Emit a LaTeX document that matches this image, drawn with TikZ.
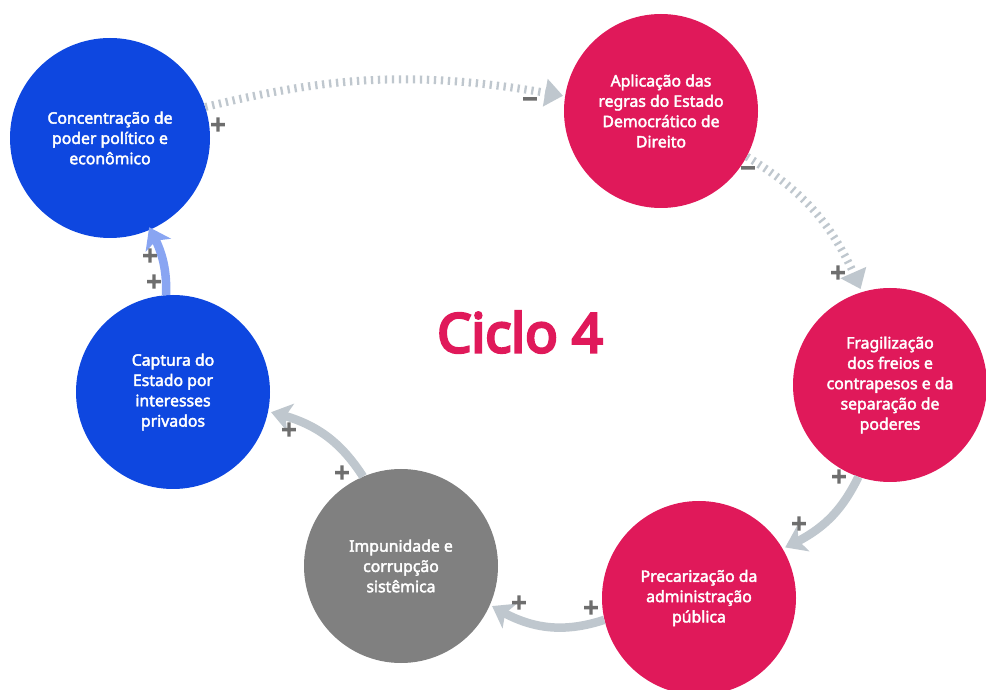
\documentclass[tikz,border=0pt]{standalone}
\usepackage{fontspec}
\setmainfont{Noto Sans}[AutoFakeBold=2.6]
\newfontfamily\titlefont{Noto Sans}[FakeBold=5]
\newfontfamily\signfont{Noto Sans}[FakeBold=6]
\usetikzlibrary{arrows.meta,bending}
\definecolor{cblue}{HTML}{0E47E0}
\definecolor{ccrim}{HTML}{E0195A}
\definecolor{cgray}{HTML}{808080}
\definecolor{carrow}{HTML}{BFC7CE}
\definecolor{clblue}{HTML}{89A5F2}
\definecolor{csign}{HTML}{6E6E6E}
\tikzset{
  circ/.style={circle, minimum size=194pt, inner sep=0pt, text=white,
    font=\fontsize{15.8}{20.3}\selectfont\bfseries, align=center},
  dotarrow/.style={draw=carrow, line width=8pt, dash pattern=on 2.3pt off 4.7pt,
    -{Triangle[length=18pt,width=27pt,fill=carrow,color=carrow]}},
  solidarrow/.style={draw=carrow, line width=8.5pt,
    -{Stealth[length=20pt,width=28pt,inset=5pt,fill=carrow,color=carrow]}},
  sign/.style={text=csign, font=\signfont\fontsize{26}{26}\selectfont, inner sep=0pt}
}
\begin{document}
\begin{tikzpicture}[x=1pt,y=1pt]
\useasboundingbox (0,0) rectangle (986,689);
\clip (0,0) rectangle (986,689);
\fill[white] (0,0) rectangle (986,689);

\node[circ, fill=cblue, minimum size=200pt] (c1) at (110,551) {Concentração de\\poder político e\\econômico};
\node[circ, fill=ccrim] (c2) at (661,578) {Aplicação das\\regras do Estado\\Democrático de\\Direito};
\node[circ, fill=ccrim] (c3) at (890,304) {Fragilização\\dos freios e\\contrapesos e da\\separação de\\poderes};
\node[circ, fill=ccrim] (c4) at (699,91) {Precarização da\\administração\\pública};
\node[circ, fill=cgray] (c5) at (401,123) {Impunidade e\\corrupção\\sistêmica};
\node[circ, fill=cblue] (c6) at (173,297) {Captura do\\Estado por\\interesses\\privados};

\node[text=ccrim, font=\titlefont\fontsize{54}{54}\selectfont] (title) at (520,357) {Ciclo 4};

\draw[dotarrow] (c1.18) to[bend left=12] ([shift={(-2,0)}]c2.171);
\draw[dotarrow] (c2.-28) to[bend left=18] ([shift={(-1,3)}]c3.107);
\draw[solidarrow] (c3.-109) to[bend left=20] ([shift={(2,2)}]c4.30);
\draw[solidarrow] (c4.193) to[bend left=25] ([shift={(3,1)}]c5.-25);
\draw[solidarrow] (c5.113) to[bend right=22] ([shift={(3,0)}]c6.-12);
\draw[solidarrow, draw=clblue, -{Stealth[length=20pt,width=28pt,inset=5pt,fill=clblue,color=clblue]}] (c6.94) to[bend right=15] ([shift={(0,3)}]c1.-67);

\node[sign] (s1a) at (218,563) {+};
\node[sign] (s1b) at (530,586) {−};
\node[sign] (s2a) at (748,517) {−};
\node[sign] (s2b) at (838,415) {+};
\node[sign] (s3a) at (839,211) {+};
\node[sign] (s3b) at (799,164) {+};
\node[sign] (s4a) at (591,80) {+};
\node[sign] (s4b) at (519,85) {+};
\node[sign] (s5a) at (342,215) {+};
\node[sign] (s5b) at (289,258) {+};
\node[sign] (s6a) at (150,432) {+};
\node[sign] (s6b) at (154,406) {+};
\end{tikzpicture}
\end{document}
